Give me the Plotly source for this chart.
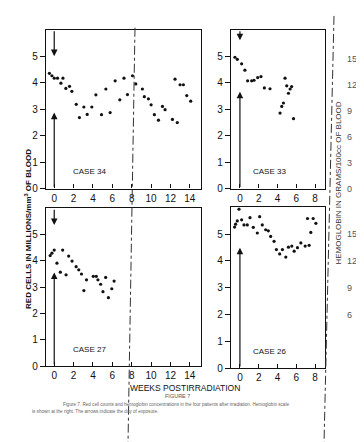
import plotly.graph_objects as go

# ---------------- data ----------------
case34_weeks = [-0.5, -0.24, 0.0, 0.34, 0.9, 0.69, 1.2, 1.58, 1.82, 2.27, 2.6, 3.06, 3.4, 3.88, 4.3,
                4.88, 5.33, 5.77, 6.29, 6.77, 7.2, 7.56, 8.08, 8.42, 9.1, 9.3, 9.72, 10.0, 10.34,
                10.76, 11.17, 11.44, 12.2, 12.7, 12.47, 12.99, 13.33, 13.68, 14.09]
case34_vals = [4.35, 4.26, 4.17, 4.17, 4.17, 3.98, 3.78, 3.86, 3.67, 3.18, 2.68, 3.08, 2.80, 3.08, 3.54,
               2.79, 3.76, 2.87, 4.07, 3.35, 4.17, 3.55, 4.26, 3.95, 3.76, 3.47, 3.39, 3.16, 2.79,
               2.58, 3.10, 2.98, 2.61, 2.49, 4.13, 3.92, 3.92, 3.51, 3.30]

case33_weeks = [-0.53, -0.28, 0.18, 0.53, 0.82, 1.25, 1.5, 1.89, 2.24, 2.6, 3.2, 4.27, 4.45, 4.63,
                4.8, 4.98, 5.16, 5.34, 5.5, 5.7]
case33_vals = [4.96, 4.88, 4.71, 4.47, 4.07, 4.07, 4.09, 4.19, 4.23, 3.80, 3.77, 2.85, 3.10, 3.23,
               4.17, 3.88, 3.60, 3.76, 3.85, 2.64]

case27_weeks = [-0.42, -0.24, 0.0, 0.28, 0.63, 0.87, 1.22, 1.49, 1.84, 2.26, 2.53, 2.81, 3.06, 3.33,
                4.03, 4.34, 4.51, 4.79, 5.03, 5.31, 5.59, 5.94, 6.18]
case27_vals = [4.20, 4.29, 4.41, 3.91, 3.57, 4.41, 3.47, 4.18, 3.99, 3.78, 3.66, 3.50, 2.87, 3.28,
               3.41, 3.41, 3.28, 3.11, 2.83, 3.37, 2.60, 2.94, 3.23]

case26_weeks = [-0.57, -0.46, -0.28, -0.1, 0.18, 0.43, 0.78, 1.07, 1.42, 1.85, 2.1, 2.38, 2.74, 3.02,
                3.27, 3.63, 3.88, 4.23, 4.52, 4.88, 5.16, 5.52, 5.77, 6.12, 6.48, 6.94, 7.19, 7.36,
                7.54, 7.79, 8.08]
case26_vals = [5.26, 5.37, 5.49, 5.93, 5.53, 5.34, 5.34, 5.61, 5.25, 5.04, 5.65, 5.34, 5.16, 5.12,
               4.91, 4.73, 4.42, 4.26, 4.42, 4.14, 4.51, 4.55, 4.36, 4.49, 4.67, 4.55, 5.58, 4.58,
               5.06, 5.58, 5.40]

case_labels = ["CASE 34", "CASE 33", "CASE 27", "CASE 26"]
red_ticks = [0, 1, 2, 3, 4, 5]
wide_ticks = [0, 2, 4, 6, 8, 10, 12, 14]
narrow_ticks = [0, 2, 4, 6, 8]
hb_ticks_top = [0, 3, 6, 9, 12, 15]
hb_ticks_bottom = [6, 9, 12, 15]

# arrows: (down-arrow head, up-arrow head) in red-cell units, None = absent
arrow_heads = [(5.0, 2.87), (5.6, 3.66), (5.36, 3.56), (None, 4.49)]

W, H = 364, 442
def px(x): return x / W
def py(y): return 1 - y / H

fig = go.Figure()
FONT = "Liberation Sans"
INK = "#111111"

panels = [
    ("x", "y", (38, 193), (22, 183), [-0.85, 15.15], wide_ticks, case34_weeks, case34_vals),
    ("x2", "y2", (223, 317), (22, 183), [-0.95, 9.05], narrow_ticks, case33_weeks, case33_vals),
    ("x3", "y3", (38, 193), (203, 363), [-0.85, 15.15], wide_ticks, case27_weeks, case27_vals),
    ("x4", "y4", (223, 317), (202, 365), [-0.95, 9.05], narrow_ticks, case26_weeks, case26_vals),
]

layout = dict(width=W, height=H, margin=dict(l=0, r=0, t=0, b=0),
              paper_bgcolor="white", plot_bgcolor="white", showlegend=False,
              font=dict(family=FONT, color=INK))
annotations = []
shapes = []

for i, (xa, ya, (x0, x1), (yt, yb), xr, xt, wk, vals) in enumerate(panels):
    fig.add_trace(go.Scatter(x=wk, y=vals, mode="markers", xaxis=xa, yaxis=ya,
                             marker=dict(size=3.2, color=INK, symbol="circle"),
                             hoverinfo="skip"))
    xkey = "xaxis" + xa[1:]
    ykey = "yaxis" + ya[1:]
    layout[xkey] = dict(domain=[px(x0), px(x1)], anchor=ya, range=xr, tickvals=xt,
                        ticks="inside", ticklen=4, tickcolor=INK, showline=True,
                        linecolor=INK, linewidth=1.2, mirror=True, showgrid=False,
                        zeroline=False, tickfont=dict(size=10, color=INK), ticklabelstandoff=0)
    layout[ykey] = dict(domain=[py(yb), py(yt)], anchor=xa, range=[0, 6], tickvals=red_ticks,
                        ticks="outside", ticklen=5, tickcolor=INK, showline=True,
                        linecolor=INK, linewidth=1.2, mirror=True, showgrid=False,
                        zeroline=False, tickfont=dict(size=10, color=INK))
    annotations.append(dict(x=3.6 if xr[1] > 10 else 3.1, y=0.63, xref=xa, yref=ya,
                            xanchor="center", yanchor="middle",
                            text=case_labels[i], showarrow=False,
                            font=dict(size=8, color=INK, family=FONT)))
    down, up = arrow_heads[i]
    if down is not None:
        annotations.append(dict(x=0, y=down, ax=0, ay=6, xref=xa, yref=ya, axref=xa, ayref=ya,
                                text="", showarrow=True, arrowhead=2, arrowsize=1.1,
                                arrowwidth=1.2, arrowcolor=INK))
    annotations.append(dict(x=0, y=up, ax=0, ay=0, xref=xa, yref=ya, axref=xa, ayref=ya,
                            text="", showarrow=True, arrowhead=2, arrowsize=1.1,
                            arrowwidth=1.2, arrowcolor=INK))

# hemoglobin scales on the far right
layout["yaxis5"] = dict(domain=layout["yaxis2"]["domain"], anchor="free", overlaying="y2",
                        position=px(338), side="right", range=[0, 18.4], tickvals=hb_ticks_top,
                        showline=False, ticks="", showgrid=False, zeroline=False,
                        tickfont=dict(size=9, color="#555555"))
layout["yaxis6"] = dict(domain=layout["yaxis4"]["domain"], anchor="free", overlaying="y4",
                        position=px(338), side="right", range=[0, 18], tickvals=hb_ticks_bottom,
                        showline=False, ticks="", showgrid=False, zeroline=False,
                        tickfont=dict(size=9, color="#555555"))
fig.add_trace(go.Scatter(x=[None], y=[None], yaxis="y5", xaxis="x2", showlegend=False))
fig.add_trace(go.Scatter(x=[None], y=[None], yaxis="y6", xaxis="x4", showlegend=False))

# axis titles and caption
annotations += [
    dict(x=px(20), y=py(224), xref="paper", yref="paper", textangle=-90, showarrow=False,
         xanchor="center", yanchor="middle",
         text="<b>RED CELLS IN MILLIONS/mm<sup>3</sup> OF BLOOD</b>",
         font=dict(size=8, color=INK, family=FONT)),
    dict(x=px(331), y=py(178), xref="paper", yref="paper", textangle=-90, showarrow=False,
         xanchor="center", yanchor="middle",
         text="HEMOGLOBIN IN GRAMS/100cc OF BLOOD",
         font=dict(size=8, color="#333333", family=FONT)),
    dict(x=px(177), y=py(385), xref="paper", yref="paper", showarrow=False,
         xanchor="center", yanchor="middle",
         text="WEEKS POSTIRRADIATION", font=dict(size=8.5, color=INK, family=FONT)),
    dict(x=px(169), y=py(393.5), xref="paper", yref="paper", showarrow=False,
         xanchor="center", yanchor="middle",
         text="FIGURE 7", font=dict(size=5.5, color="#555555", family=FONT)),
    dict(x=px(168), y=py(402), xref="paper", yref="paper", showarrow=False,
         xanchor="center", yanchor="middle",
         text="Figure 7. Red cell counts and hemoglobin concentrations in the four patients after irradiation. Hemoglobin scale",
         font=dict(size=4.6, color="#666666", family=FONT)),
    dict(x=px(22), y=py(409), xref="paper", yref="paper", showarrow=False,
         xanchor="left", yanchor="middle",
         text="is shown at the right. The arrows indicate the day of exposure.",
         font=dict(size=4.6, color="#666666", family=FONT)),
]

# fold lines of the scanned page
shapes += [
    dict(type="line", xref="paper", yref="paper", x0=px(127), y0=py(20), x1=px(120), y1=py(442),
         line=dict(color="#333333", width=1, dash="dashdot")),
    dict(type="line", xref="paper", yref="paper", x0=px(326), y0=py(8), x1=px(316), y1=py(442),
         line=dict(color="#333333", width=1, dash="dashdot")),
]

layout["annotations"] = annotations
layout["shapes"] = shapes
fig.update_layout(**layout)
fig.write_html("out.html")
